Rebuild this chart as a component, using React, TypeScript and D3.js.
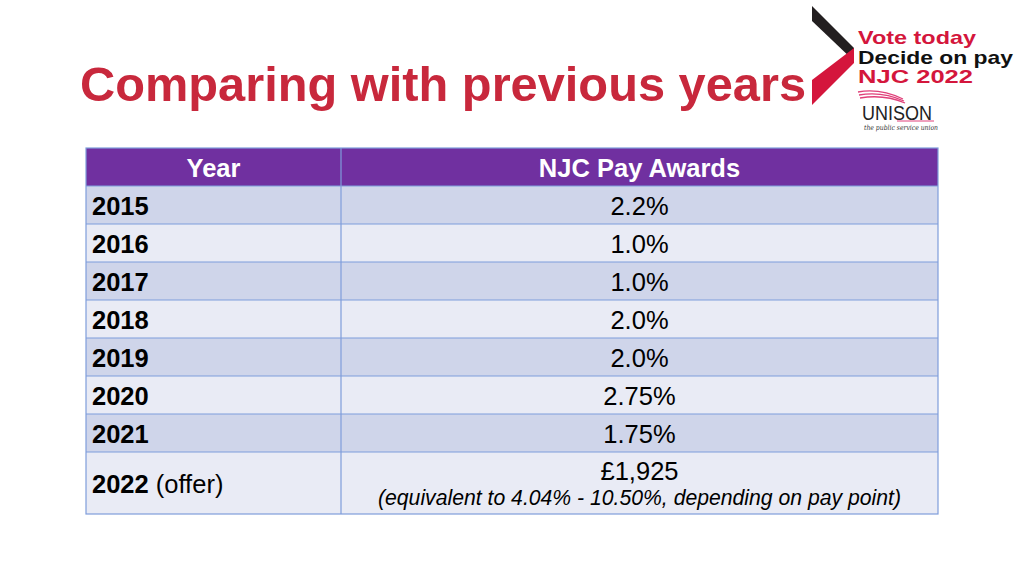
import React from "react";
import * as d3 from "d3";

const title = "Comparing with previous years";
const headers = ["Year", "NJC Pay Awards"];
const years = ["2015", "2016", "2017", "2018", "2019", "2020", "2021", "2022"];
const yearNotes = ["", "", "", "", "", "", "", " (offer)"];
const awards = ["2.2%", "1.0%", "1.0%", "2.0%", "2.0%", "2.75%", "1.75%", "£1,925"];
const awardNotes = ["", "", "", "", "", "", "", "(equivalent to 4.04% - 10.50%, depending on pay point)"];
const logoLines = ["Vote today", "Decide on pay", "NJC 2022"];

const FONT = "'Liberation Sans', Arial, Helvetica, sans-serif";

export default function App() {
  const W = 1024, H = 576;
  const x0 = 86, xSplit = 341, x1 = 938;
  const tallUnits = 62 / 38;
  const bounds: number[] = [0];
  for (let i = 0; i < years.length + 1; i++) {
    const last = i === years.length;
    bounds.push(bounds[i] + (last && awardNotes[i - 1] ? tallUnits : 1));
  }
  const y = d3.scaleLinear().domain([0, bounds[bounds.length - 1]]).range([148, 514]);
  const rowTop = (i: number) => y(bounds[i + 1]);
  const rowBot = (i: number) => y(bounds[i + 2]);
  const c0 = (x0 + xSplit) / 2, c1 = (xSplit + x1) / 2;
  const border = "#7f9ddb";
  const fs = 25.5;

  return (
    <svg width={W} height={H} style={{ position: "absolute", left: 0, top: 0, display: "block", background: "#fff" }}>
      <rect x={0} y={0} width={W} height={H} fill="#fff" />
      <text x={80} y={101} fontFamily={FONT} fontWeight="bold" fontSize={48.5} fill="#c8283c" textLength={726} lengthAdjust="spacingAndGlyphs">{title}</text>

      {/* Logo chevron */}
      <polygon points="812,6 854,48 854,61 812,21" fill="#231f20" />
      <polygon points="854,48 854,63 812,105 812,80" fill="#d4163c" />
      {logoLines.map((t, i) => (
        <text key={t} x={858} y={44 + i * 19.5} fontFamily={FONT} fontWeight="bold" fontSize={19}
          fill={i === 1 ? "#111" : "#d4163c"} textLength={[118, 155, 115][i]} lengthAdjust="spacingAndGlyphs">{t}</text>
      ))}
      {/* UNISON */}
      <path d="M858,92 Q880,88 903,99" stroke="#e0417a" strokeWidth={1.3} fill="none" />
      <path d="M859,95 Q882,91 904,101" stroke="#e0417a" strokeWidth={1.3} fill="none" />
      <path d="M860,98 Q884,94 905,103" stroke="#e0417a" strokeWidth={1.3} fill="none" />
      <text x={862} y={120} fontFamily={FONT} fontSize={21} fill="#222" textLength={70} lengthAdjust="spacingAndGlyphs">UNISON</text>
      <line x1={897} y1={121} x2={934} y2={121} stroke="#e0417a" strokeWidth={1} />
      <text x={864} y={130} fontFamily="'DejaVu Serif', serif" fontStyle="italic" fontSize={7} fill="#333" textLength={74} lengthAdjust="spacingAndGlyphs">the public service union</text>

      {/* Table header */}
      <rect x={x0} y={y(0)} width={x1 - x0} height={y(1) - y(0)} fill="#7030a0" />
      <text x={c0} y={y(0) + 28.5} textAnchor="middle" fontFamily={FONT} fontWeight="bold" fontSize={fs} fill="#fff">{headers[0]}</text>
      <text x={c1} y={y(0) + 28.5} textAnchor="middle" fontFamily={FONT} fontWeight="bold" fontSize={fs} fill="#fff">{headers[1]}</text>

      {years.map((yr, i) => {
        const top = rowTop(i), bot = rowBot(i);
        const mid = (top + bot) / 2;
        const hasNote = !!awardNotes[i];
        return (
          <g key={yr}>
            <rect x={x0} y={top} width={x1 - x0} height={bot - top} fill={i % 2 === 0 ? "#cfd5ea" : "#e9ebf5"} />
            <text x={92} y={mid + 9.5} fontFamily={FONT} fontSize={fs} fill="#000">
              <tspan fontWeight="bold">{yr}</tspan>
              {yearNotes[i] && <tspan>{yearNotes[i]}</tspan>}
            </text>
            <text x={c1} y={hasNote ? top + 27.5 : mid + 9.5} textAnchor="middle" fontFamily={FONT} fontSize={fs} fill="#000">{awards[i]}</text>
            {hasNote && (
              <text x={c1} y={top + 53} textAnchor="middle" fontFamily={FONT} fontStyle="italic" fontSize={21.2} fill="#000">{awardNotes[i]}</text>
            )}
          </g>
        );
      })}

      {bounds.slice(1, -1).map((b, i) => (
        <line key={i} x1={x0} x2={x1} y1={y(b)} y2={y(b)} stroke={border} strokeWidth={1.2} />
      ))}
      <line x1={xSplit} x2={xSplit} y1={y(0)} y2={y(bounds[bounds.length - 1])} stroke={border} strokeWidth={1.2} />
      <rect x={x0} y={y(0)} width={x1 - x0} height={y(bounds[bounds.length - 1]) - y(0)} fill="none" stroke={border} strokeWidth={1.2} />
    </svg>
  );
}
